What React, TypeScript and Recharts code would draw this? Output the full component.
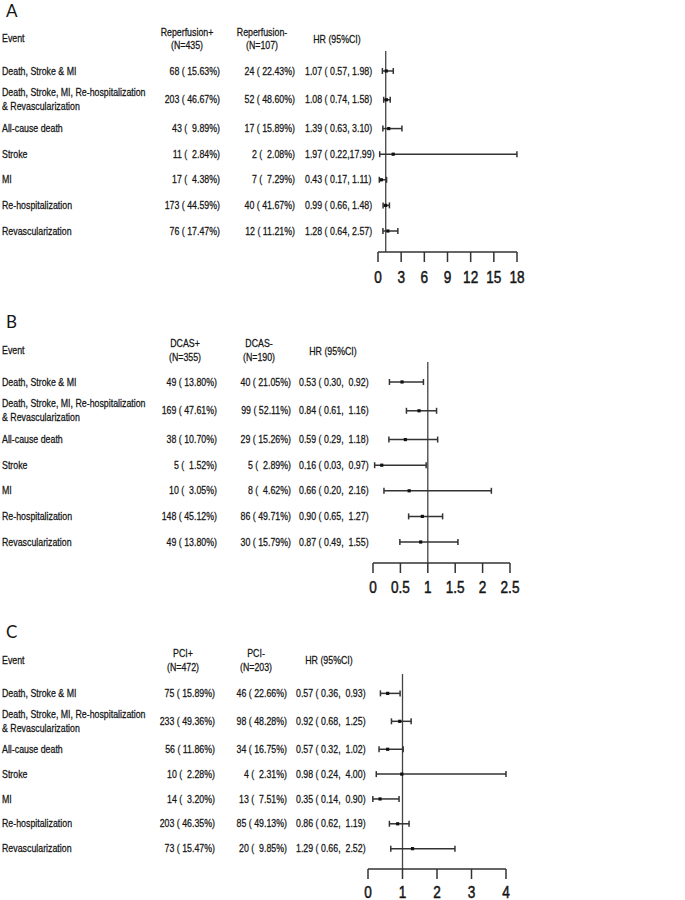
import React from 'react';
import { ComposedChart, Scatter, ErrorBar, XAxis, YAxis, ReferenceLine, Customized } from 'recharts';

// ---------- data ----------
const events = [
  'Death, Stroke & MI',
  'Death, Stroke, MI, Re-hospitalization\n& Revascularization',
  'All-cause death',
  'Stroke',
  'MI',
  'Re-hospitalization',
  'Revascularization',
];

// Panel A
const aGroups = ['Reperfusion+', 'Reperfusion-'];
const aN = [435, 107];
const aPlusCount = [68, 203, 43, 11, 17, 173, 76];
const aPlusPct = [15.63, 46.67, 9.89, 2.84, 4.38, 44.59, 17.47];
const aMinusCount = [24, 52, 17, 2, 7, 40, 12];
const aMinusPct = [22.43, 48.6, 15.89, 2.08, 7.29, 41.67, 11.21];
const aHR = [1.07, 1.08, 1.39, 1.97, 0.43, 0.99, 1.28];
const aLow = [0.57, 0.74, 0.63, 0.22, 0.17, 0.66, 0.64];
const aHigh = [1.98, 1.58, 3.1, 17.99, 1.11, 1.48, 2.57];
const aTicks = [0, 3, 6, 9, 12, 15, 18];

// Panel B
const bGroups = ['DCAS+', 'DCAS-'];
const bN = [355, 190];
const bPlusCount = [49, 169, 38, 5, 10, 148, 49];
const bPlusPct = [13.8, 47.61, 10.7, 1.52, 3.05, 45.12, 13.8];
const bMinusCount = [40, 99, 29, 5, 8, 86, 30];
const bMinusPct = [21.05, 52.11, 15.26, 2.89, 4.62, 49.71, 15.79];
const bHR = [0.53, 0.84, 0.59, 0.16, 0.66, 0.9, 0.87];
const bLow = [0.3, 0.61, 0.29, 0.03, 0.2, 0.65, 0.49];
const bHigh = [0.92, 1.16, 1.18, 0.97, 2.16, 1.27, 1.55];
const bTicks = [0, 0.5, 1, 1.5, 2, 2.5];

// Panel C
const cGroups = ['PCI+', 'PCI-'];
const cN = [472, 203];
const cPlusCount = [75, 233, 56, 10, 14, 203, 73];
const cPlusPct = [15.89, 49.36, 11.86, 2.28, 3.2, 46.35, 15.47];
const cMinusCount = [46, 98, 34, 4, 13, 85, 20];
const cMinusPct = [22.66, 48.28, 16.75, 2.31, 7.51, 49.13, 9.85];
const cHR = [0.57, 0.92, 0.57, 0.98, 0.35, 0.86, 1.29];
const cLow = [0.36, 0.68, 0.32, 0.24, 0.14, 0.62, 0.66];
const cHigh = [0.93, 1.25, 1.02, 4.0, 0.9, 1.19, 2.52];
const cTicks = [0, 1, 2, 3, 4];

// ---------- layout helpers ----------
const FONT = "'Liberation Sans', Arial, sans-serif";
const TXT = '#151515';
const LINE = '#333';
const NARROW = 0.84;

// row slots: two-line labels take a bit more room
const rowH = events.map((e) => (e.includes('\n') ? 1.25 : 1));
const positions: number[] = [];
rowH.forEach((h, i) => {
  positions.push(i === 0 ? 0 : positions[i - 1] + (rowH[i - 1] + h) / 2);
});
const yDomain = [-0.78, positions[positions.length - 1] + 0.82];

const fmtCount = (n: number, p: number) => `${n} (${p.toFixed(2).padStart(6, ' ')}%)`;
const fmtHR = (h: number, l: number, u: number, w: number) =>
  `${h.toFixed(2)} (${l.toFixed(2).padStart(5, ' ')},${u.toFixed(2).padStart(w, ' ')})`;

type Layout = {
  top: number; axisY: number; left: number; right: number; tickGap: number;
  letterY: number; eventY: number; g1: number; g2: number; hrHeadY: number;
  c1c: number; c2c: number; hrc: number; c1r: number; c2r: number; hrX: number; hiW: number;
};

const layouts: Layout[] = [
  { top: 51, axisY: 252, left: 378, right: 517, tickGap: 9, letterY: 17, eventY: 38, g1: 32, g2: 45, hrHeadY: 39, c1c: 187, c2c: 262, hrc: 337, c1r: 220, c2r: 295, hrX: 305, hiW: 5 },
  { top: 62, axisY: 263, left: 373, right: 510, tickGap: 8, letterY: 28, eventY: 50, g1: 43, g2: 57, hrHeadY: 51, c1c: 185, c2c: 259, hrc: 333, c1r: 217, c2r: 291, hrX: 299, hiW: 6 },
  { top: 74, axisY: 269, left: 368, right: 506, tickGap: 7, letterY: 38, eventY: 60, g1: 53, g2: 67, hrHeadY: 60, c1c: 183, c2c: 256, hrc: 329, c1r: 215, c2r: 287, hrX: 296, hiW: 6 },
];

type NTProps = { x: number; y: number; anchor?: 'start' | 'middle' | 'end'; size?: number; sx?: number; dy?: string; children: React.ReactNode };
function NText({ x, y, anchor = 'start', size = 10.5, sx = NARROW, dy = '0.35em', children }: NTProps) {
  return (
    <g transform={`translate(${x},${y}) scale(${sx},1)`}>
      <text
        x={0}
        y={0}
        dy={dy}
        textAnchor={anchor}
        fontFamily={FONT}
        fontSize={size}
        fill={TXT}
        stroke={TXT}
        strokeWidth={size > 12 ? 0.5 : 0.25}
        xmlSpace="preserve"
        style={{ whiteSpace: 'pre' }}
      >
        {children}
      </text>
    </g>
  );
}

type PanelProps = {
  letter: string; groups: string[]; ns: number[];
  plusCount: number[]; plusPct: number[]; minusCount: number[]; minusPct: number[];
  hr: number[]; lo: number[]; hi: number[]; ticks: number[]; L: Layout;
};

function Panel({ letter, groups, ns, plusCount, plusPct, minusCount, minusPct, hr, lo, hi, ticks, L }: PanelProps) {
  const W = 685;
  const H = 300;
  const data = events.map((_, i) => ({ hr: hr[i], pos: positions[i], err: [hr[i] - lo[i], hi[i] - hr[i]] }));

  const renderRow = (props: any) => {
    const { y, payload } = props;
    const i = positions.findIndex((p) => Math.abs(p - payload.value) < 1e-6);
    if (i < 0) return <g />;
    const lines = events[i].split('\n');
    return (
      <g>
        {lines.map((ln, k) => (
          <NText key={k} x={2} y={y + (k - (lines.length - 1) / 2) * 14}>{ln}</NText>
        ))}
        <NText x={L.c1r} y={y} anchor="end">{fmtCount(plusCount[i], plusPct[i])}</NText>
        <NText x={L.c2r} y={y} anchor="end">{fmtCount(minusCount[i], minusPct[i])}</NText>
        <NText x={L.hrX} y={y}>{fmtHR(hr[i], lo[i], hi[i], L.hiW)}</NText>
      </g>
    );
  };

  const renderXTick = (props: any) => {
    const { x, y, payload } = props;
    return (
      <NText x={x} y={y} anchor="middle" size={17} sx={0.8} dy="0.71em">{String(payload.value)}</NText>
    );
  };

  const Headers = () => (
    <g>
      <text x={6} y={L.letterY} fontFamily="Lato, 'Open Sans', sans-serif" fontSize={17} fill={TXT}>{letter}</text>
      <NText x={2} y={L.eventY}>Event</NText>
      <NText x={L.c1c} y={L.g1} anchor="middle">{groups[0]}</NText>
      <NText x={L.c1c} y={L.g2} anchor="middle">{`(N=${ns[0]})`}</NText>
      <NText x={L.c2c} y={L.g1} anchor="middle">{groups[1]}</NText>
      <NText x={L.c2c} y={L.g2} anchor="middle">{`(N=${ns[1]})`}</NText>
      <NText x={L.hrc} y={L.hrHeadY} anchor="middle">HR (95%CI)</NText>
    </g>
  );

  const dot = (p: any) => <rect x={p.cx - 1.6} y={p.cy - 1.6} width={3.2} height={3.2} fill="#111" />;

  return (
    <ComposedChart
      width={W}
      height={H}
      data={data}
      margin={{ top: L.top, right: W - L.right, bottom: H - L.axisY - 30, left: 0 }}
      style={{ overflow: 'visible' }}
    >
      <XAxis
        type="number"
        dataKey="hr"
        domain={[ticks[0], ticks[ticks.length - 1]]}
        ticks={ticks}
        allowDataOverflow
        height={30}
        tickSize={10}
        tickMargin={L.tickGap}
        interval={0}
        stroke={LINE}
        axisLine={{ stroke: LINE, strokeWidth: 1.5 }}
        tickLine={{ stroke: LINE, strokeWidth: 1.5 }}
        tick={renderXTick}
      />
      <YAxis
        type="number"
        dataKey="pos"
        domain={yDomain}
        reversed
        allowDataOverflow
        ticks={positions}
        interval={0}
        width={L.left}
        axisLine={false}
        tickLine={false}
        tick={renderRow}
      />
      <ReferenceLine x={1} stroke="#444" strokeWidth={1.3} />
      <Scatter data={data} isAnimationActive={false} shape={dot}>
        <ErrorBar dataKey="err" direction="x" width={3} stroke="#333" strokeWidth={1.5} isAnimationActive={false} />
      </Scatter>
      <Customized component={Headers} />
    </ComposedChart>
  );
}

export default function App() {
  return (
    <div style={{ width: 685, height: 900, background: '#fff', position: 'relative' }}>
      <style>{'body{margin:0;background:#fff}'}</style>
      <Panel letter="A" groups={aGroups} ns={aN} plusCount={aPlusCount} plusPct={aPlusPct} minusCount={aMinusCount} minusPct={aMinusPct} hr={aHR} lo={aLow} hi={aHigh} ticks={aTicks} L={layouts[0]} />
      <Panel letter="B" groups={bGroups} ns={bN} plusCount={bPlusCount} plusPct={bPlusPct} minusCount={bMinusCount} minusPct={bMinusPct} hr={bHR} lo={bLow} hi={bHigh} ticks={bTicks} L={layouts[1]} />
      <Panel letter="C" groups={cGroups} ns={cN} plusCount={cPlusCount} plusPct={cPlusPct} minusCount={cMinusCount} minusPct={cMinusPct} hr={cHR} lo={cLow} hi={cHigh} ticks={cTicks} L={layouts[2]} />
    </div>
  );
}
